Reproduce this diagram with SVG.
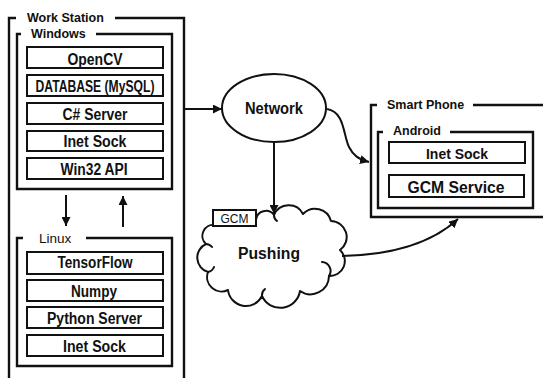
<svg xmlns="http://www.w3.org/2000/svg" width="543" height="378" viewBox="0 0 543 378">
<defs>
<style>
.frame{fill:none;stroke:#111;stroke-width:2.4}
.box{fill:#fff;stroke:#111;stroke-width:2}
.conn{fill:none;stroke:#111;stroke-width:2}
.title{font-family:"Liberation Sans",Arial,sans-serif;font-weight:bold;font-size:12.5px;fill:#111}
.lbl{font-family:"Liberation Sans",Arial,sans-serif;font-weight:bold;font-size:16px;fill:#111;text-anchor:middle}
</style>
<marker id="ah" viewBox="0 0 10 10" refX="10" refY="5" markerWidth="9" markerHeight="9" markerUnits="userSpaceOnUse" orient="auto">
<path d="M0,0 L10,5 L0,10 z" fill="#111"/>
</marker>
</defs>
<rect width="543" height="378" fill="#fff"/>

<g id="workstation">
<path class="frame" d="M16,18 H9 V382 M115,18 H184 V382"/>
<text class="title" x="27" y="21.5">Work Station</text>
</g>

<g id="windows">
<path class="frame" d="M21,34 H17 V189 H172 V34 H96"/>
<text class="title" x="31" y="38">Windows</text>
<rect class="box" x="27" y="47" width="136" height="21"/>
<text class="lbl" x="95" y="64.5" textLength="55" lengthAdjust="spacingAndGlyphs">OpenCV</text>
<rect class="box" x="27" y="75" width="136" height="21"/>
<text class="lbl" x="95" y="92" textLength="119" lengthAdjust="spacingAndGlyphs">DATABASE (MySQL)</text>
<rect class="box" x="27" y="103" width="136" height="21"/>
<text class="lbl" x="95" y="120" textLength="65" lengthAdjust="spacingAndGlyphs">C# Server</text>
<rect class="box" x="27" y="131" width="136" height="20"/>
<text class="lbl" x="95" y="147" textLength="63" lengthAdjust="spacingAndGlyphs">Inet Sock</text>
<rect class="box" x="27" y="158" width="136" height="21"/>
<text class="lbl" x="94" y="175" textLength="67" lengthAdjust="spacingAndGlyphs">Win32 API</text>
</g>

<g id="linux">
<path class="frame" d="M23,238 H17 V366 H172 V238 H86"/>
<text x="39" y="243" font-family="Liberation Sans, Arial, sans-serif" font-size="13.5" fill="#111">Linux</text>
<rect class="box" x="27" y="252" width="136" height="22"/>
<text class="lbl" x="95" y="268" textLength="75" lengthAdjust="spacingAndGlyphs">TensorFlow</text>
<rect class="box" x="27" y="280" width="136" height="21"/>
<text class="lbl" x="94" y="296.5" textLength="46" lengthAdjust="spacingAndGlyphs">Numpy</text>
<rect class="box" x="27" y="307" width="136" height="21"/>
<text class="lbl" x="94.5" y="324" textLength="95" lengthAdjust="spacingAndGlyphs">Python Server</text>
<rect class="box" x="27" y="335" width="136" height="21"/>
<text class="lbl" x="94.5" y="352" textLength="63" lengthAdjust="spacingAndGlyphs">Inet Sock</text>
</g>

<g id="network">
<ellipse cx="274" cy="108" rx="52" ry="34" fill="#fff" stroke="#111" stroke-width="2"/>
<text class="lbl" x="274" y="113.5" textLength="58" lengthAdjust="spacingAndGlyphs">Network</text>
</g>

<g id="pushing">
<path fill="#fff" stroke="#111" stroke-width="2" stroke-linejoin="round" d="M215,225 A11,11 0 0 0 206,244 A15,15 0 0 0 208,272 A14.5,14.5 0 0 0 228,290 A18,18 0 0 0 262,296 A20,20 0 0 0 300,291 A18.5,18.5 0 0 0 329,276 A15,15 0 0 0 340,250 A16,16 0 0 0 331,221 A16.5,16.5 0 0 0 303,214 A16,16 0 0 0 274,215 A10,10 0 0 0 256,220 Z"/>
<path fill="none" stroke="#111" stroke-width="2" stroke-linecap="round" d="M274,215 A7,7 0 0 0 277,221 M329,276 A9,9 0 0 0 322,262 M262,296 A8,8 0 0 1 265,289 M208,272 A8,8 0 0 0 214,267 M206,244 A8,8 0 0 1 212,247"/>
<rect x="213" y="210" width="43" height="16" fill="#fff" stroke="#111" stroke-width="2"/>
<text x="234.5" y="223" font-family="Liberation Sans, Arial, sans-serif" font-size="12" fill="#111" text-anchor="middle">GCM</text>
<text class="lbl" x="269" y="259" textLength="62" lengthAdjust="spacingAndGlyphs">Pushing</text>
</g>

<g id="smartphone">
<path class="frame" d="M377,105 H371 V217 H546 M473,105 H546"/>
<text class="title" x="387" y="108.5">Smart Phone</text>
</g>

<g id="android">
<path class="frame" d="M383,132 H378 V208 H533 V132 H450"/>
<text class="title" x="393" y="134.5">Android</text>
<rect class="box" x="389" y="142" width="136" height="21"/>
<text class="lbl" x="457" y="158.5" textLength="62" lengthAdjust="spacingAndGlyphs" style="font-size:14.5px">Inet Sock</text>
<rect class="box" x="389" y="175" width="135" height="22"/>
<text class="lbl" x="456" y="192.5" textLength="97" lengthAdjust="spacingAndGlyphs" style="font-size:17px">GCM Service</text>
</g>

<g id="connectors">
<line class="conn" x1="66" y1="195" x2="66" y2="226" marker-end="url(#ah)"/>
<line class="conn" x1="123" y1="227" x2="123" y2="196" marker-end="url(#ah)"/>
<line class="conn" x1="184" y1="109" x2="222" y2="109" marker-end="url(#ah)"/>
<line class="conn" x1="274" y1="142" x2="274" y2="214" marker-end="url(#ah)"/>
<path class="conn" d="M327,109 C345,112 343,135 349,147 C353,155 358,159 369,162" marker-end="url(#ah)"/>
<path class="conn" d="M342,256 C393,255 433,242 458,219" marker-end="url(#ah)"/>
</g>
</svg>
